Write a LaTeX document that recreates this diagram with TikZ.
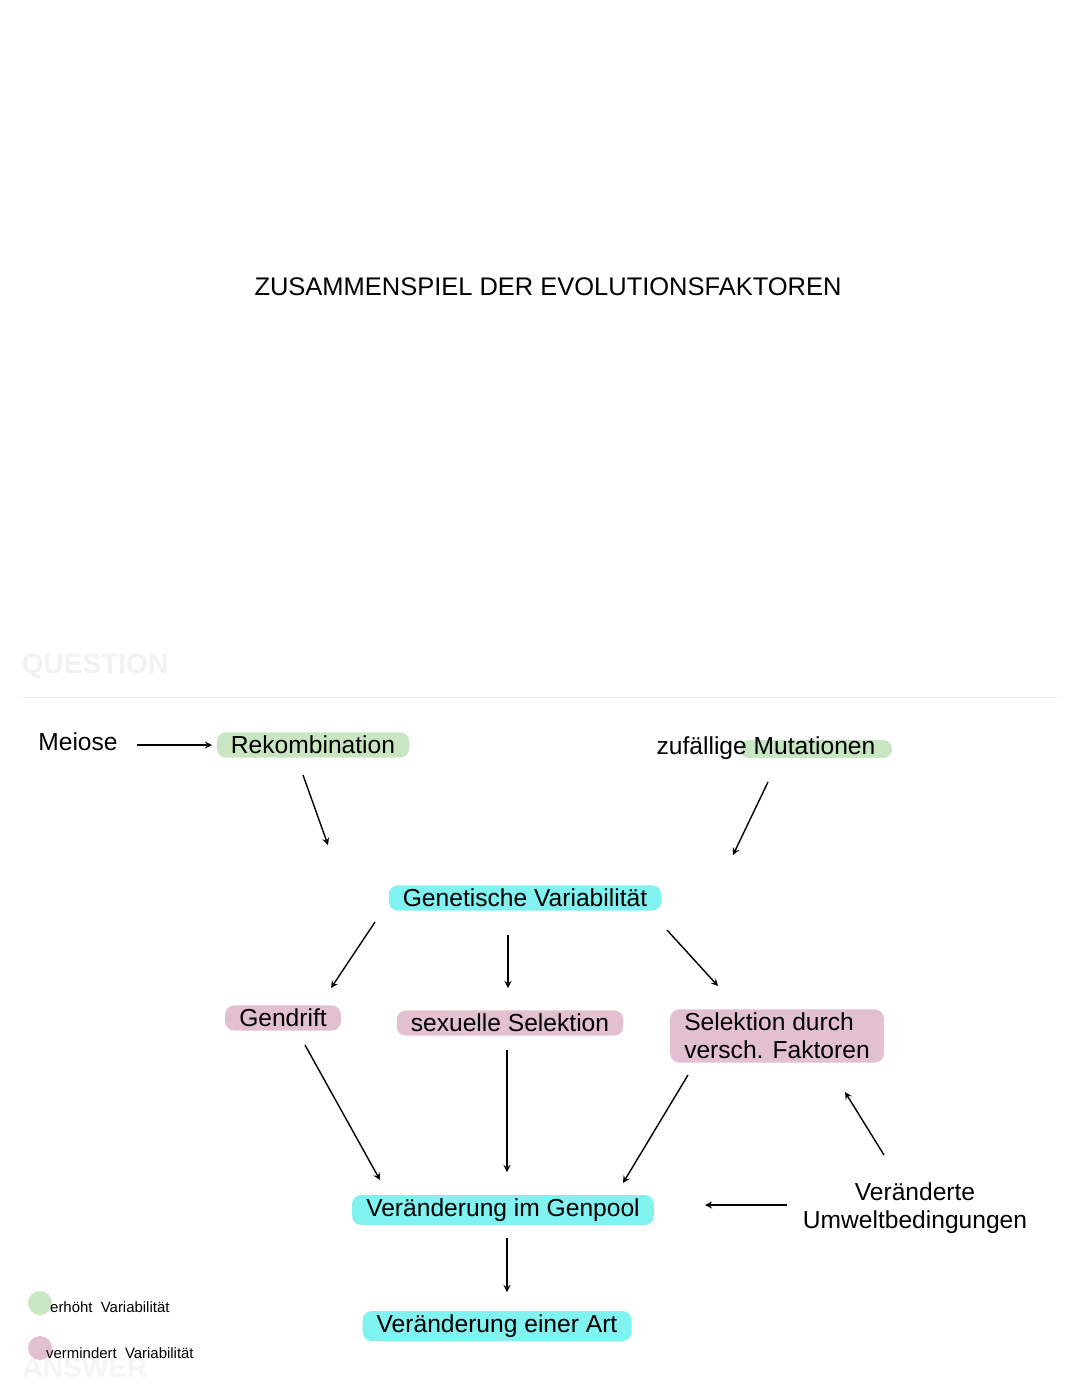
\documentclass[tikz,border=0pt]{standalone}
\usepackage{fontspec}
\setmainfont{Liberation Sans}
\begin{document}
\begin{tikzpicture}[x=0.02cm,y=-0.02cm,
  txt/.style={font=\fontsize{14}{16}\selectfont, inner sep=1pt},
  hl/.style={txt, rounded corners=5pt, inner xsep=8pt, inner ysep=2pt},
  arr/.style={->, thick, >=stealth, shorten >=0pt},
  leg/.style={font=\fontsize{8.5}{10}\selectfont, anchor=west}]
\definecolor{hgreen}{HTML}{C9E6C3}
\definecolor{hcyan}{HTML}{80F2F0}
\definecolor{hpink}{HTML}{E3BFD2}
\useasboundingbox (0,0) rectangle (1080,1394);
\fill[white] (0,0) rectangle (1080,1394);
\node[font=\fontsize{14.5}{17}\selectfont] (title) at (548,287) {ZUSAMMENSPIEL DER EVOLUTIONSFAKTOREN};
\node[font=\fontsize{16}{18}\bfseries\selectfont, text=black!5] (q) at (95,666) {QUESTION};
\node[font=\fontsize{16}{18}\bfseries\selectfont, text=black!4] (ans) at (85,1368) {ANSWER};
\coordinate (l1) at (20,697); \coordinate (l2) at (1060,697);
\draw[black!6] (l1) -- (l2);

\node[txt] (meiose) at (78,742) {Meiose};
\node[hl, fill=hgreen] (rekomb) at (313,745) {Rekombination};
\fill[hgreen, rounded corners=5pt] (740,740) rectangle (892,758);
\node[txt] (mut) at (766,748) {zufällige Mutationen};
\node[hl, fill=hcyan] (gv) at (525,898) {Genetische Variabilität};
\node[hl, fill=hpink] (gd) at (283,1018) {Gendrift};
\node[hl, fill=hpink] (ss) at (510,1023) {sexuelle Selektion};
\node[hl, fill=hpink, align=left] (sd) at (777,1036) {Selektion durch\\versch. Faktoren};
\node[txt, align=center] (um) at (915,1208) {Veränderte\\Umweltbedingungen};
\node[hl, fill=hcyan] (gp) at (503,1210) {Veränderung im Genpool};
\node[hl, fill=hcyan] (art) at (497,1326) {Veränderung einer Art};

\coordinate (a1) at (137,745); \coordinate (a2) at (212,745);
\draw[arr] (a1) -- (a2);
\coordinate (b1) at (303,775); \coordinate (b2) at (328,845);
\draw[arr] (b1) -- (b2);
\coordinate (c1) at (768,782); \coordinate (c2) at (733,855);
\draw[arr] (c1) -- (c2);
\coordinate (d1) at (375,922); \coordinate (d2) at (331,988);
\draw[arr] (d1) -- (d2);
\coordinate (e1) at (508,935); \coordinate (e2) at (508,988);
\draw[arr] (e1) -- (e2);
\coordinate (f1) at (667,930); \coordinate (f2) at (718,986);
\draw[arr] (f1) -- (f2);
\coordinate (g1) at (305,1045); \coordinate (g2) at (380,1180);
\draw[arr] (g1) -- (g2);
\coordinate (h1) at (507,1050); \coordinate (h2) at (507,1172);
\draw[arr] (h1) -- (h2);
\coordinate (i1) at (688,1075); \coordinate (i2) at (623,1183);
\draw[arr] (i1) -- (i2);
\coordinate (j1) at (884,1155); \coordinate (j2) at (845,1092);
\draw[arr] (j1) -- (j2);
\coordinate (k1) at (787,1205); \coordinate (k2) at (705,1205);
\draw[arr] (k1) -- (k2);
\coordinate (m1) at (507,1238); \coordinate (m2) at (507,1292);
\draw[arr] (m1) -- (m2);

\node[circle, fill=hgreen, inner sep=0pt, minimum size=0.48cm] (cg) at (40,1303) {};
\node[leg] (lg) at (44,1307) {erhöht \ Variabilität};
\node[circle, fill=hpink, inner sep=0pt, minimum size=0.48cm] (cp) at (40,1348) {};
\node[leg] (lp) at (40,1353) {vermindert \ Variabilität};
\end{tikzpicture}
\end{document}
